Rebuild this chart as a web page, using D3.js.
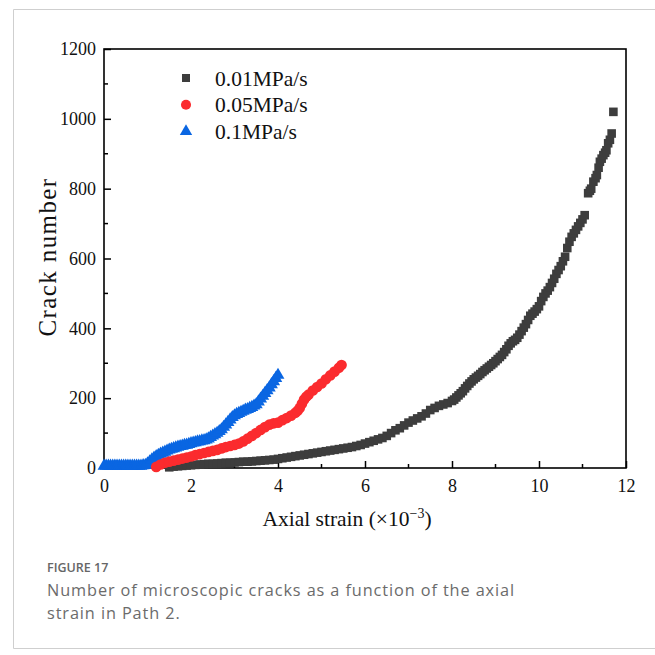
<!DOCTYPE html>
<html>
<head>
<meta charset="utf-8">
<script src="https://cdn.jsdelivr.net/npm/d3@7"></script>
<style>
  html, body { margin: 0; padding: 0; background: #fff; }
  svg { display: block; }
</style>
</head>
<body>
<svg id="chart" width="655" height="655"></svg>
<script>
// Crack count vs axial strain for three loading rates
const seriesNames = ["0.01MPa/s", "0.05MPa/s", "0.1MPa/s"];
const seriesColors = ["#3d3d3d", "#fb2b2e", "#0a66e2"];

// 0.01 MPa/s
const strain001 = [1.5,1.6,1.7,1.8,1.9,2.0,2.1,2.2,2.3,2.4,2.5,2.6,2.7,2.8,2.9,3.0,3.1,3.2,3.3,3.4,3.5,3.6,3.7,3.8,3.9,
  4.0,4.1,4.2,4.3,4.4,4.5,4.6,4.7,4.8,4.9,5.0,5.1,5.2,5.3,5.4,5.5,5.6,5.7,5.8,5.9,6.0,6.1,6.2,6.3,6.4,6.5,6.6,6.7,6.8,6.9,
  7.0,7.1,7.2,7.3,7.4,7.5,7.6,7.7,7.8,7.9,
  8.0,8.05,8.1,8.15,8.2,8.25,8.3,8.35,8.4,8.45,8.5,8.55,8.6,8.65,8.7,8.75,8.8,8.85,8.9,8.95,
  9.0,9.05,9.1,9.15,9.2,9.25,9.3,9.35,9.4,9.45,9.5,9.55,9.6,9.65,9.7,9.75,9.8,9.85,9.9,9.95,
  10.0,10.05,10.1,10.15,10.2,10.25,10.3,10.35,10.4,10.45,10.5,10.55,10.6,10.65,10.7,10.75,10.8,10.85,10.9,10.95,
  11.0,11.05,11.13,11.17,11.2,11.25,11.3,11.33,11.37,11.4,11.44,11.48,11.52,11.55,11.59,11.63,11.67,11.71];
const cracks001 = [2,4,5,6,7,8,9,10,11,12,12,13,14,15,15,16,17,18,18,19,20,21,22,23,24,
  26,28,30,32,34,36,38,40,42,44,46,48,50,52,54,56,58,60,63,66,70,74,78,82,86,92,100,108,114,122,
  130,136,142,148,156,166,172,178,182,186,
  192,196,202,208,214,220,228,235,242,248,254,259,264,269,275,280,285,290,295,300,
  306,312,318,324,332,340,350,357,363,367,373,382,392,402,412,424,436,442,448,455,
  463,478,490,500,508,518,530,542,556,567,578,592,605,630,648,662,672,682,692,702,
  712,724,787,794,800,820,830,839,860,877,886,896,903,910,930,940,958,1020];

// 0.05 MPa/s
const strain005 = [1.2,1.3,1.4,1.5,1.6,1.7,1.8,1.9,2.0,2.1,2.2,2.3,2.4,2.5,2.6,2.7,2.8,2.9,3.0,3.1,3.2,3.3,3.4,3.5,3.6,
  3.7,3.8,3.9,4.0,4.1,4.2,4.3,4.4,4.45,4.5,4.55,4.6,4.65,4.7,4.8,4.9,5.0,5.1,5.2,5.3,5.4,5.46];
const cracks005 = [3,10,15,18,21,24,27,30,33,37,40,43,46,49,52,56,60,63,66,70,76,84,92,100,109,
  117,124,128,130,137,143,150,158,164,172,184,196,204,210,222,232,242,254,265,276,287,295];

// 0.1 MPa/s
const strain01 = [0,0.05,0.1,0.15,0.2,0.25,0.3,0.35,0.4,0.45,0.5,0.55,0.6,0.65,0.7,0.75,0.8,0.85,0.9,0.95,
  1.0,1.05,1.1,1.15,1.2,1.25,1.3,1.35,1.4,1.45,1.5,1.55,1.6,1.65,1.7,1.75,1.8,1.85,1.9,1.95,
  2.0,2.05,2.1,2.15,2.2,2.25,2.3,2.35,2.4,2.45,2.5,2.55,2.6,2.65,2.7,2.75,2.8,2.85,2.9,2.95,
  3.0,3.05,3.1,3.15,3.2,3.25,3.3,3.35,3.4,3.45,3.5,3.55,3.6,3.65,3.7,3.75,3.8,3.85,3.9,3.95,4.0];
const cracks01 = [6,6,6,6,6,6,6,6,6,6,6,6,6,6,6,6,6,6,7,8,
  12,18,24,29,33,37,40,43,46,49,52,54,56,58,60,62,63,65,66,68,
  70,72,73,75,76,78,79,81,84,88,92,96,100,105,110,117,124,131,138,145,
  150,154,157,160,163,166,168,171,174,178,182,190,198,206,214,222,230,239,248,257,266];

const xTicks = [0, 2, 4, 6, 8, 10, 12];
const yTicks = [0, 200, 400, 600, 800, 1000, 1200];

const svg = d3.select("#chart");
const margin = { left: 104, right: 626, top: 49, bottom: 468 };

const x = d3.scaleLinear().domain([0, 12]).range([margin.left, margin.right]);
const y = d3.scaleLinear().domain([0, 1200]).range([margin.bottom, margin.top]);

// Card outline around figure and caption
svg.append("path")
  .attr("d", "M 660 9.5 H 13.5 V 648.5 H 660")
  .attr("fill", "none")
  .attr("stroke", "#cfcfcf")
  .attr("stroke-width", 1);

const serif = "'Liberation Serif', 'Times New Roman', serif";

// Axes with inward ticks
const gAxes = svg.append("g");
const xMinor = d3.range(1, 12, 2);
const yMinor = d3.range(100, 1200, 200);

const xAxis = d3.axisBottom(x).tickValues(xTicks).tickSizeInner(-7).tickSizeOuter(0).tickPadding(11)
  .tickFormat(d3.format("d"));
const gx = gAxes.append("g").attr("transform", `translate(0,${margin.bottom})`).call(xAxis);
gx.append("g").selectAll("line").data(xMinor).join("line")
  .attr("x1", d => x(d)).attr("x2", d => x(d)).attr("y1", 0).attr("y2", -4)
  .attr("stroke", "#000").attr("stroke-width", 1.5);

const yAxis = d3.axisLeft(y).tickValues(yTicks).tickSizeInner(-7).tickSizeOuter(0).tickPadding(8)
  .tickFormat(d3.format("d"));
const gy = gAxes.append("g").attr("transform", `translate(${margin.left},0)`).call(yAxis);
gy.append("g").selectAll("line").data(yMinor).join("line")
  .attr("y1", d => y(d)).attr("y2", d => y(d)).attr("x1", 0).attr("x2", 4)
  .attr("stroke", "#000").attr("stroke-width", 1.5);

[gx, gy].forEach(g => {
  g.select(".domain").remove();
  g.selectAll(".tick line").attr("stroke", "#000").attr("stroke-width", 1.5);
  g.selectAll(".tick text").attr("font-family", serif).attr("font-size", 18).attr("fill", "#111");
});

// Plot frame
svg.append("rect")
  .attr("x", margin.left).attr("y", margin.top)
  .attr("width", margin.right - margin.left).attr("height", margin.bottom - margin.top)
  .attr("fill", "none").attr("stroke", "#000").attr("stroke-width", 1.6);

// Series
const symbols = [d3.symbolSquare, d3.symbolCircle, d3.symbolTriangle];
const sizes = [74, 90, 72];
const series = [
  { xs: strain001, ys: cracks001, i: 0 },
  { xs: strain01, ys: cracks01, i: 2 },
  { xs: strain005, ys: cracks005, i: 1 }
];
series.forEach(s => {
  const pts = s.xs.map((v, k) => [v, s.ys[k]]);
  svg.append("g").selectAll("path").data(pts).join("path")
    .attr("transform", d => `translate(${x(d[0])},${y(d[1])})`)
    .attr("d", d3.symbol(symbols[s.i], sizes[s.i]))
    .attr("fill", seriesColors[s.i]);
});

// Legend
const legendSizes = [64, 80, 66];
const legend = svg.append("g");
seriesNames.forEach((name, i) => {
  const ly = 78 + i * 26.7;
  legend.append("path")
    .attr("transform", `translate(186,${ly})`)
    .attr("d", d3.symbol(symbols[i], legendSizes[i]))
    .attr("fill", seriesColors[i]);
  legend.append("text")
    .attr("x", 215).attr("y", ly + 7.5)
    .attr("font-family", serif).attr("font-size", 21.5).attr("fill", "#111")
    .text(name);
});

// Axis titles
const xt = svg.append("text")
  .attr("x", 347).attr("y", 526)
  .attr("text-anchor", "middle")
  .attr("font-family", serif).attr("font-size", 21.5).attr("fill", "#111");
xt.append("tspan").text("Axial strain (×10");
xt.append("tspan").attr("dy", -8).attr("font-size", 14).text("−3");
xt.append("tspan").attr("dy", 8).text(")");

svg.append("text")
  .attr("transform", "translate(56,257) rotate(-90)")
  .attr("text-anchor", "middle")
  .attr("font-family", serif).attr("font-size", 25).attr("letter-spacing", 1.4)
  .attr("fill", "#111")
  .text("Crack number");

// Caption
svg.append("text")
  .attr("x", 47).attr("y", 572)
  .attr("font-family", "'Open Sans', sans-serif").attr("font-size", 12.5).attr("font-weight", 600)
  .attr("fill", "#666").text("FIGURE 17");
const cap = ["Number of microscopic cracks as a function of the axial", "strain in Path 2."];
cap.forEach((t, i) => {
  svg.append("text")
    .attr("x", 47).attr("y", 596 + i * 23)
    .attr("font-family", "'Open Sans', sans-serif").attr("font-size", 16.3)
    .attr("letter-spacing", 0.9)
    .attr("fill", "#6b6b6b").text(t);
});
</script>
</body>
</html>
